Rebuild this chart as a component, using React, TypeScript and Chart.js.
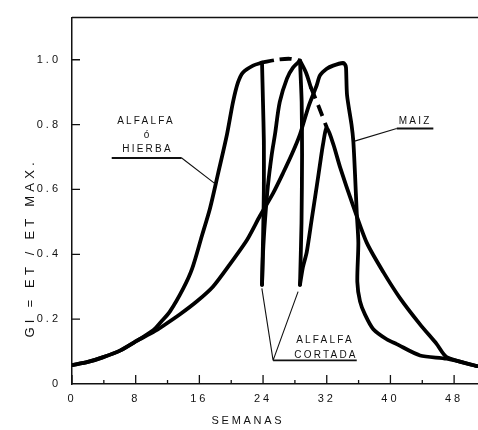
import React, { useEffect, useRef } from 'react';
import { Chart, registerables } from 'chart.js';

Chart.register(...registerables);

// ---- axes ----
const xTickValues = [0, 8, 16, 24, 32, 40, 48];
const xMinorTickValues = [4, 12, 20, 28, 36, 44];
const yTickValues = [0, 0.2, 0.4, 0.6, 0.8, 1.0];
const xTitle = 'SEMANAS';
const yTitle = 'GI = ET / ET MAX.';

// ---- Alfalfa ó hierba (sin cortar): subida ----
const alfalfaRiseWeeks = [0, 2, 3.94, 6.03, 8.12, 10.2, 11.2, 12.31, 13.98, 15.08, 16.33, 17.34, 18.34, 19.47, 20.23, 20.85, 21.48, 22.74, 23.87];
const alfalfaRiseGI = [0.058, 0.068, 0.083, 0.103, 0.133, 0.166, 0.192, 0.224, 0.295, 0.355, 0.458, 0.542, 0.648, 0.77, 0.87, 0.93, 0.961, 0.982, 0.991];

// ---- Alfalfa ó hierba: meseta (trazo discontinuo) ----
const plateauWeeks = [23.87, 25.75, 27.4, 28.64];
const plateauGI = [0.991, 1.0, 1.003, 0.997];

// ---- Alfalfa ó hierba: caída (trazo continuo corto) ----
const fallSolidWeeks = [28.64, 29.4, 30.0];
const fallSolidGI = [0.997, 0.96, 0.915];

// ---- Alfalfa ó hierba: caída (trazo discontinuo) ----
const fallDashedWeeks = [30.0, 31.0, 32.0];
const fallDashedGI = [0.915, 0.855, 0.791];

// ---- Alfalfa cortada: corte 1 ----
const cut1Weeks = [23.87, 23.99, 24.1, 24.1, 24.0, 23.87];
const cut1GI = [0.991, 0.87, 0.75, 0.6, 0.45, 0.306];

// ---- Rebrote 2 ----
const regrowth2Weeks = [23.87, 24.0, 24.25, 24.6, 25.1, 25.5, 26.1, 27.0, 27.76, 28.64];
const regrowth2GI = [0.306, 0.406, 0.506, 0.609, 0.709, 0.77, 0.87, 0.942, 0.976, 0.997];

// ---- Alfalfa cortada: corte 2 ----
const cut2Weeks = [28.64, 28.85, 28.9, 28.83, 28.64];
const cut2GI = [0.997, 0.87, 0.709, 0.497, 0.306];

// ---- Rebrote 3 y descenso final ----
const regrowth3Weeks = [28.64, 29.0, 29.48, 30.1, 30.74, 31.16, 31.53, 32.0, 32.83, 33.67, 35.34, 37.02, 39.11, 41.2, 43.72, 45.82, 47.07, 50.88];
const regrowth3GI = [0.306, 0.36, 0.406, 0.506, 0.609, 0.679, 0.739, 0.791, 0.739, 0.669, 0.548, 0.436, 0.345, 0.265, 0.184, 0.123, 0.083, 0.055];

// ---- Maíz ----
const maizWeeks = [0, 2, 3.94, 6.03, 8.12, 10.2, 11.43, 13.57, 15.7, 17.7, 19.85, 22.0, 23.6, 25.25, 26.5, 27.64, 28.64, 29.7, 30.74, 31.16, 32.0, 32.8, 34.05, 34.3, 34.42, 34.55, 35.11, 35.34, 35.55, 35.77, 35.97, 35.84, 36.18, 36.81, 37.85, 39.53, 40.79, 43.72, 47.07, 50.88];
const maizGI = [0.058, 0.068, 0.083, 0.103, 0.133, 0.16, 0.179, 0.215, 0.255, 0.3, 0.37, 0.445, 0.518, 0.588, 0.65, 0.71, 0.77, 0.855, 0.921, 0.952, 0.972, 0.982, 0.99, 0.985, 0.976, 0.891, 0.8, 0.748, 0.648, 0.527, 0.436, 0.315, 0.255, 0.214, 0.169, 0.138, 0.123, 0.088, 0.078, 0.055];

// ---- textos ----
const alfalfaLabel = ['ALFALFA', 'ó', 'HIERBA'];
const maizLabel = ['MAIZ'];
const cortadaLabel = ['ALFALFA', 'CORTADA'];

const pts = (xs: number[], ys: number[]) => xs.map((x, i) => ({ x, y: ys[i] }));

const ds = (data: any, opts: any = {}) => ({
  data,
  borderColor: '#000',
  borderWidth: 3.8,
  pointRadius: 0,
  fill: false,
  tension: 0.3,
  borderCapStyle: 'round',
  borderJoinStyle: 'round',
  ...opts,
});

const decorPlugin = {
  id: 'decor',
  beforeDraw(chart: any) {
    chart.ctx.letterSpacing = '3px';
  },
  afterDraw(chart: any) {
    const { ctx, chartArea: a, scales } = chart;
    const xs = scales.x;
    const ys = scales.y;
    const px = (w: number) => xs.getPixelForValue(w);
    const py = (v: number) => ys.getPixelForValue(v);
    ctx.save();
    ctx.strokeStyle = '#111';
    ctx.fillStyle = '#111';
    // top frame
    ctx.lineWidth = 1.5;
    ctx.beginPath();
    ctx.moveTo(a.left, a.top);
    ctx.lineTo(a.right, a.top);
    ctx.stroke();
    // inward ticks
    ctx.lineWidth = 1.3;
    ctx.beginPath();
    xTickValues.forEach((w) => {
      ctx.moveTo(px(w), a.bottom);
      ctx.lineTo(px(w), a.bottom - 9);
    });
    xMinorTickValues.forEach((w) => {
      ctx.moveTo(px(w), a.bottom);
      ctx.lineTo(px(w), a.bottom - 4);
    });
    yTickValues.slice(1).forEach((v) => {
      ctx.moveTo(a.left, py(v));
      ctx.lineTo(a.left + 8, py(v));
    });
    ctx.stroke();

    // annotation texts
    ctx.textAlign = 'center';
    ctx.textBaseline = 'middle';
    ctx.font = '10px "Liberation Sans", Arial, sans-serif';
    ctx.letterSpacing = '2.2px';
    const ax = px(9.3), ay = py(0.809);
    alfalfaLabel.forEach((t, i) => ctx.fillText(t, ax + (i > 0 ? 1.5 : 0), ay + i * 14));
    const mx = px(43.1), my = py(0.81);
    maizLabel.forEach((t, i) => ctx.fillText(t, mx, my + i * 14));
    const cx = px(31.78), cy = py(0.135);
    cortadaLabel.forEach((t, i) => ctx.fillText(t, cx + i, cy + i * 15));

    // underlines
    ctx.lineWidth = 1.8;
    ctx.beginPath();
    ctx.moveTo(px(4.99), py(0.697));
    ctx.lineTo(px(13.78), py(0.697));
    ctx.moveTo(px(40.79), py(0.788));
    ctx.lineTo(px(45.39), py(0.788));
    ctx.moveTo(px(25.26), py(0.0727));
    ctx.lineTo(px(35.77), py(0.0727));
    ctx.stroke();
    // leaders
    ctx.lineWidth = 1.1;
    ctx.beginPath();
    ctx.moveTo(px(13.78), py(0.697));
    ctx.lineTo(px(17.96), py(0.618));
    ctx.moveTo(px(40.79), py(0.788));
    ctx.lineTo(px(35.5), py(0.749));
    ctx.moveTo(px(25.26), py(0.0727));
    ctx.lineTo(px(23.85), py(0.295));
    ctx.moveTo(px(25.26), py(0.0727));
    ctx.lineTo(px(28.4), py(0.285));
    ctx.stroke();

    // axis titles
    ctx.font = '11px "Liberation Sans", Arial, sans-serif';
    ctx.letterSpacing = '2.7px';
    ctx.fillText(xTitle, px(22.1), a.bottom + 37);
    ctx.save();
    ctx.translate(a.left - 42, py(0.42));
    ctx.rotate(-Math.PI / 2);
    ctx.font = '13px "Liberation Sans", Arial, sans-serif';
    ctx.letterSpacing = '4.2px';
    ctx.fillText(yTitle, 0, 0);
    ctx.restore();

    ctx.restore();
    ctx.letterSpacing = '0px';
  },
};

export default function App() {
  const ref = useRef<HTMLCanvasElement>(null);
  useEffect(() => {
    const canvas = ref.current;
    if (!canvas) return;
    const tickFont = { family: '"Liberation Sans", Arial, sans-serif', size: 11 };
    const chart = new Chart(canvas, {
      type: 'line',
      data: {
        datasets: [
          ds(pts(alfalfaRiseWeeks, alfalfaRiseGI), { label: 'Alfalfa ó hierba' }),
          ds(pts(plateauWeeks, plateauGI), { borderDash: [12, 6], borderCapStyle: 'butt', label: 'Alfalfa ó hierba (meseta)' }),
          ds(pts(fallSolidWeeks, fallSolidGI), { label: 'Alfalfa ó hierba (caída)' }),
          ds(pts(fallDashedWeeks, fallDashedGI), { borderDash: [12, 7], borderCapStyle: 'butt', label: 'Alfalfa ó hierba (caída, disc.)' }),
          ds(pts(cut1Weeks, cut1GI), { tension: 0.2, label: 'Corte 1' }),
          ds(pts(regrowth2Weeks, regrowth2GI), { label: 'Rebrote 2' }),
          ds(pts(cut2Weeks, cut2GI), { tension: 0.2, label: 'Corte 2' }),
          ds(pts(regrowth3Weeks, regrowth3GI), { tension: 0.25, label: 'Rebrote 3' }),
          ds(pts(maizWeeks, maizGI), { tension: 0.25, label: 'Maíz' }),
        ],
      },
      options: {
        responsive: false,
        maintainAspectRatio: false,
        animation: false,
        devicePixelRatio: 1,
        parsing: true,
        layout: { padding: { top: 11, right: 0, left: 0, bottom: 0 } },
        plugins: { legend: { display: false }, tooltip: { enabled: false }, title: { display: false } },
        elements: { line: { capBezierPoints: true } },
        scales: {
          x: {
            type: 'linear',
            min: 0,
            max: 51,
            afterFit: (s: any) => { s.height = 46; },
            afterBuildTicks: (s: any) => { s.ticks = xTickValues.map((v) => ({ value: v })); },
            grid: { display: true, drawOnChartArea: false, drawTicks: false },
            border: { display: true, color: '#111', width: 1.5 },
            ticks: { color: '#111', font: tickFont, padding: 8, maxRotation: 0, callback: (v: any) => String(v) },
          },
          y: {
            type: 'linear',
            min: 0,
            max: 1.13,
            afterFit: (s: any) => { s.width = 72; },
            afterBuildTicks: (s: any) => { s.ticks = yTickValues.map((v) => ({ value: v })); },
            grid: { display: true, drawOnChartArea: false, drawTicks: false },
            border: { display: true, color: '#111', width: 1.5 },
            ticks: { color: '#111', font: tickFont, padding: 11, callback: (v: any) => (v === 0 ? '0' : Number(v).toFixed(1)) },
          },
        },
      } as any,
      plugins: [decorPlugin],
    });
    return () => chart.destroy();
  }, []);
  return (
    <div style={{ position: 'absolute', left: 0, top: 0, width: 478, height: 430, background: '#fff' }}>
      <canvas ref={ref} width={478} height={430} style={{ display: 'block' }} />
    </div>
  );
}
